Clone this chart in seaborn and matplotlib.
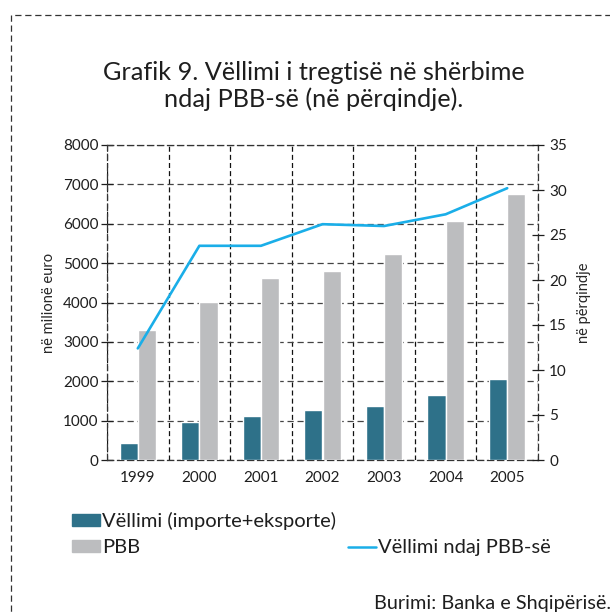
import numpy as np
import pandas as pd
import matplotlib
matplotlib.use("Agg")
import matplotlib.pyplot as plt
import seaborn as sns
from matplotlib.patches import Rectangle, Patch
from matplotlib.lines import Line2D

years = ["1999", "2000", "2001", "2002", "2003", "2004", "2005"]
vellimi = [420, 960, 1115, 1265, 1370, 1650, 2055]
pbb = [3300, 4020, 4620, 4800, 5230, 6070, 6755]
ratio = [12.4, 23.8, 23.8, 26.2, 26.0, 27.3, 30.2]

lbl_vol = "Vëllimi (importe+eksporte)"
lbl_pbb = "PBB"
lbl_ratio = "Vëllimi ndaj PBB-së"

c_dark = "#2e7189"
c_grey = "#bcbdbf"
c_line = "#1aaee8"

sns.set_style("white")
plt.rcParams['font.family'] = ['Lato', 'DejaVu Sans']
plt.rcParams['text.color'] = '#1e1e1e'

df = pd.DataFrame({
    "year": years * 2,
    "value": vellimi + pbb,
    "series": [lbl_vol] * len(years) + [lbl_pbb] * len(years),
})

fig = plt.figure(figsize=(6.1, 6.15), dpi=100)
ax = fig.add_axes([107/610, 1-460/615, 431/610, 315/615])

sns.barplot(data=df, x="year", y="value", hue="series", palette=[c_dark, c_grey],
            width=0.59, gap=0, saturation=1, ax=ax, legend=False, zorder=3)
ax.set_xlim(-0.5, 6.5)
ax.set_ylim(0, 8000)
ax.set_yticks(range(0, 8001, 1000))
ax.set_xlabel("")
ax.set_ylabel("në milionë euro", fontsize=10.5, labelpad=5)

# dashed grid everywhere, vertical lines between the years
dash = (0, (5, 3))
ax.set_xticks(np.arange(-0.5, 7, 1), minor=True)
ax.yaxis.grid(True, linestyle=dash, color="#444444", linewidth=0.9, zorder=0)
ax.xaxis.grid(True, which="minor", linestyle=(0, (4, 2.5)), color="#111111", linewidth=0.9, zorder=0)
ax.set_axisbelow(True)
for s in ax.spines.values():
    s.set_linestyle(dash)
    s.set_linewidth(0.9)
    s.set_color("#333333")
ax.tick_params(axis="y", direction="inout", length=8, width=0.9, labelsize=11, pad=2, colors="#1e1e1e")
ax.tick_params(axis="x", which="major", length=0, labelsize=11, pad=8, colors="#1e1e1e")
ax.tick_params(axis="x", which="minor", direction="out", length=5, width=0.9, color="#1e1e1e")

ax2 = ax.twinx()
sns.lineplot(x=np.arange(len(years)), y=ratio, color=c_line, linewidth=1.9, ax=ax2)
ax2.set_ylim(0, 35)
ax2.set_yticks(range(0, 36, 5))
ax2.set_ylabel("në përqindje", fontsize=10.5, labelpad=7)
ax2.tick_params(axis="y", direction="inout", length=8, width=0.9, labelsize=11, pad=4, colors="#1e1e1e")
for s in ax2.spines.values():
    s.set_visible(False)

fig.text(314/610, 1-86/615, "Grafik 9. Vëllimi i tregtisë në shërbime\nndaj PBB-së (në përqindje).",
         ha="center", va="center", fontsize=18.2, linespacing=1.2)

handles = [Patch(color=c_dark), Patch(color=c_grey), Patch(alpha=0), Line2D([], [], color=c_line, linewidth=1.8)]
labels = [lbl_vol, lbl_pbb, "", lbl_ratio]
fig.legend(handles, labels, ncol=2, loc="upper left", bbox_to_anchor=(72/610, 1-512/615),
           frameon=False, fontsize=14.5, handlelength=1.4, handleheight=0.5, handletextpad=0.1,
           labelspacing=0.45, columnspacing=0.6, borderpad=0, borderaxespad=0)

fig.text(611/610, 1-603/615, "Burimi: Banka e Shqipërisë.", ha="right", va="center", fontsize=14.3)

fig.add_artist(Rectangle((11/610, -0.1), 1.2, 1.1 - 15/615, transform=fig.transFigure,
                         fill=False, linestyle=(0, (5, 3)), linewidth=0.9, edgecolor="#333333"))

fig.savefig("out.png", dpi=100)
